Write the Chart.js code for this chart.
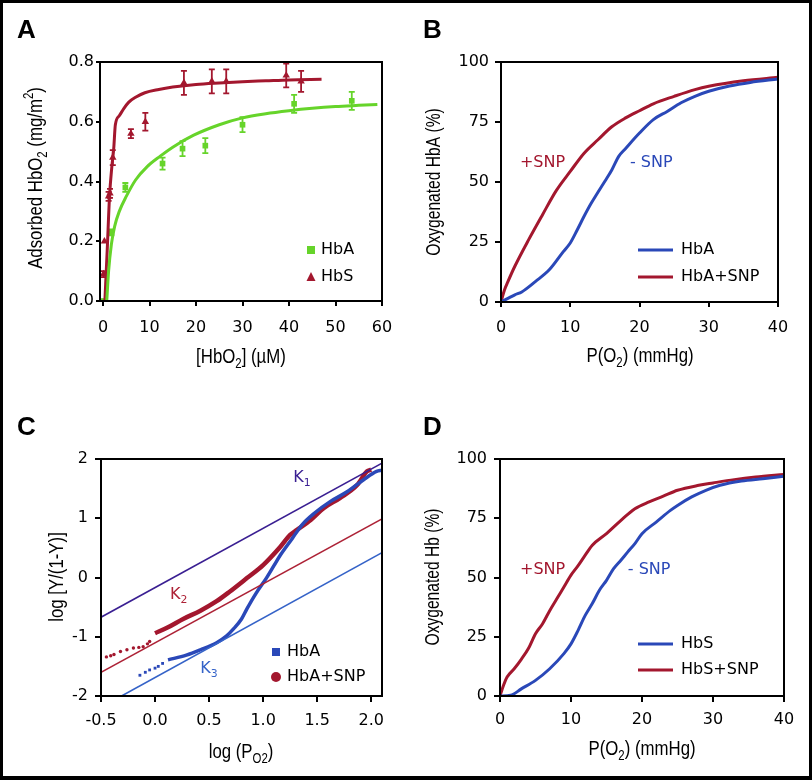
<!DOCTYPE html>
<html><head><meta charset="utf-8">
<script src="https://cdn.jsdelivr.net/npm/chart.js@4.4.1/dist/chart.umd.min.js"></script>
<style>
html,body{margin:0;padding:0;background:#fff;}
canvas{position:absolute;left:0;top:0;}
#frame{position:absolute;left:0;top:0;width:812px;height:780px;box-sizing:border-box;border:3px solid #000;border-bottom-width:4px;pointer-events:none;}
</style></head><body>
<canvas id="cA" width="812" height="780"></canvas>
<canvas id="cB" width="812" height="780"></canvas>
<canvas id="cC" width="812" height="780"></canvas>
<canvas id="cD" width="812" height="780"></canvas>
<div id="frame"></div>
<script>
// ---------------- DATA ----------------
// Panel A
const A_hba_x   = [0, 1.8, 4.8, 12.8, 17.1, 22.0, 30.0, 41.1, 53.5];
const A_hba_y   = [0.0, 0.23, 0.38, 0.46, 0.51, 0.52, 0.59, 0.66, 0.67];
const A_hba_err = [0, 0.01, 0.015, 0.02, 0.025, 0.025, 0.025, 0.03, 0.03];
const A_hbs_x   = [0.1, 0.3, 1.2, 1.5, 2.1, 6.0, 9.1, 17.4, 23.4, 26.5, 39.4, 42.6];
const A_hbs_y   = [0.09, 0.20, 0.35, 0.36, 0.48, 0.56, 0.60, 0.73, 0.735, 0.735, 0.755, 0.735];
const A_hbs_err = [0.01, 0, 0.015, 0.015, 0.025, 0.015, 0.03, 0.04, 0.04, 0.04, 0.04, 0.035];
const A_fitA_x  = [0.8, 1.2, 1.8, 2.5, 3.5, 5, 7, 9.5, 12.3, 15, 19.5, 25, 30, 35, 40, 45, 50, 55, 59];
const A_fitA_y  = [0, 0.1, 0.19, 0.25, 0.3, 0.35, 0.405, 0.45, 0.485, 0.515, 0.555, 0.59, 0.613, 0.627, 0.637, 0.645, 0.651, 0.655, 0.658];
const A_fitS_x  = [0.4, 0.9, 1.4, 1.9, 2.3, 2.65, 3.5, 4.5, 5.5, 7, 9, 12, 15, 20, 25, 30, 35, 40, 47];
const A_fitS_y  = [0, 0.17, 0.35, 0.45, 0.51, 0.59, 0.62, 0.645, 0.665, 0.682, 0.697, 0.708, 0.716, 0.725, 0.73, 0.734, 0.737, 0.74, 0.742];
const A_xticks  = [0, 10, 20, 30, 40, 50, 60];
const A_yticks  = [0, 0.2, 0.4, 0.6, 0.8];

// Panel B
const B_hba_x    = [0, 1, 2, 3, 5, 7, 9, 10, 11, 12, 13, 14, 15, 16, 17, 18, 20, 22, 24, 26, 28, 30, 33, 36, 40];
const B_hba_y    = [0, 1.5, 3, 4.2, 8.6, 13.5, 21, 24.6, 30, 35.7, 41, 45.7, 50.3, 55, 60.7, 64, 70.4, 76, 79.4, 83, 85.7, 87.8, 90, 91.5, 92.9];
const B_snp_x    = [0, 0.5, 1, 2, 4, 6, 8, 10, 12, 14, 16, 18, 20, 22, 25, 28, 30, 35, 40];
const B_snp_y    = [0, 5, 8.5, 14.9, 26, 36.4, 46.5, 54.4, 62, 67.6, 73, 76.7, 79.7, 82.6, 85.7, 88.5, 89.9, 92.2, 93.6];
const B_xticks   = [0, 10, 20, 30, 40];
const B_yticks   = [0, 25, 50, 75, 100];

// Panel C
const C_K1_x = [-0.5, 2.1];  const C_K1_y = [-0.67, 1.93];
const C_K2_x = [-0.5, 2.1];  const C_K2_y = [-1.6, 0.99];
const C_K3_x = [-0.31, 2.1]; const C_K3_y = [-2.0, 0.42];
const C_hbaSparse_x = [-0.14, -0.09, -0.05, 0.0, 0.03, 0.07];
const C_hbaSparse_y = [-1.65, -1.60, -1.56, -1.53, -1.50, -1.45];
const C_hba_x = [0.12, 0.29, 0.42, 0.57, 0.66, 0.73, 0.80, 0.85, 0.93, 1.03, 1.10, 1.16, 1.27, 1.36, 1.47, 1.62, 1.78, 1.93, 2.05, 2.1];
const C_hba_y = [-1.39, -1.31, -1.22, -1.10, -0.99, -0.86, -0.70, -0.53, -0.28, -0.01, 0.2, 0.38, 0.66, 0.89, 1.08, 1.28, 1.45, 1.65, 1.79, 1.81];
const C_snpSparse_x = [-0.45, -0.41, -0.38, -0.32, -0.26, -0.2, -0.15, -0.11, -0.07, -0.05];
const C_snpSparse_y = [-1.34, -1.32, -1.30, -1.25, -1.22, -1.19, -1.18, -1.17, -1.12, -1.08];
const C_snp_x = [0.0, 0.12, 0.26, 0.42, 0.57, 0.69, 0.85, 1.0, 1.16, 1.25, 1.31, 1.44, 1.56, 1.71, 1.87, 1.96, 2.0];
const C_snp_y = [-0.94, -0.84, -0.70, -0.56, -0.40, -0.24, -0.01, 0.21, 0.52, 0.72, 0.80, 0.97, 1.17, 1.34, 1.56, 1.79, 1.82];
const C_xticks = [-0.5, 0, 0.5, 1.0, 1.5, 2.0];
const C_yticks = [-2, -1, 0, 1, 2];

// Panel D
const D_hbs_x = [0, 1.5, 3, 5, 7, 9, 10, 11, 12, 13, 14, 15, 16, 17, 18, 19, 20, 22, 24, 25, 27, 29, 31, 34, 37, 40];
const D_hbs_y = [0, 0.3, 3, 6.6, 11.5, 17.9, 22, 27.7, 34, 39, 44.6, 48.8, 53.7, 57.2, 60.8, 64.3, 68.5, 73.4, 78.3, 80.4, 84, 86.8, 88.9, 90.7, 91.7, 92.7];
const D_snp_x = [0, 0.5, 1, 2, 3, 4, 5, 6, 7, 8, 9, 10, 11, 12, 13, 15, 17, 19, 21, 23, 25, 28, 30, 33, 36, 40];
const D_snp_y = [0, 4.5, 8, 11.5, 15.5, 20, 26.3, 30.5, 36, 41, 46, 51, 55, 59.4, 63.6, 68.5, 74, 79, 81.9, 84.3, 86.8, 88.9, 89.9, 91.3, 92.4, 93.5];
const D_xticks = [0, 10, 20, 30, 40];
const D_yticks = [0, 25, 50, 75, 100];

// Text
const A_xtitle = [['[HbO',''],['2','sub'],['] (\u00b5M)','']];
const A_ytitle = [['Adsorbed HbO',''],['2','sub'],[' (mg/m',''],['2','sup'],[')','']];
const B_xtitle = [['P(O',''],['2','sub'],[') (mmHg)','']];
const B_ytitle = [['Oxygenated HbA (%)','']];
const C_xtitle = [['log (P',''],['O2','sub'],[')','']];
const C_ytitle = [['log [Y/(1-Y)]','']];
const D_xtitle = [['P(O',''],['2','sub'],[') (mmHg)','']];
const D_ytitle = [['Oxygenated Hb (%)','']];

// ---------------- STYLE ----------------
const RED = '#a3172e', GREEN = '#66d42a', BLUE = '#2a48b8', PURPLE = '#3a1f92', RED2 = '#ad2236', BLUE2 = '#3563c8';
const TICKFONT = 'DejaVu Sans';
const TITLEFONT = "'Liberation Sans', Arial, sans-serif";
const W = 812, H = 780;

function pts(xs, ys) { return xs.map((x, i) => ({x, y: ys[i]})); }

function drawRich(ctx, segs, x, y, size, family, color, rot, align, sx) {
  sx = sx || 1;
  ctx.save();
  ctx.translate(x, y); if (rot) ctx.rotate(rot);
  ctx.scale(sx, 1);
  ctx.fillStyle = color; ctx.textBaseline = 'middle'; ctx.textAlign = 'left';
  let total = 0;
  const parts = segs.map(([t, m]) => {
    const s = m ? size * 0.68 : size;
    ctx.font = s + 'px ' + family;
    const w = ctx.measureText(t).width; total += w;
    return {t, m, s, w};
  });
  let cx = align === 'left' ? 0 : -total / 2;
  for (const p of parts) {
    ctx.font = p.s + 'px ' + family;
    const dy = p.m === 'sub' ? size * 0.32 : p.m === 'sup' ? -size * 0.33 : 0;
    ctx.fillText(p.t, cx, dy);
    cx += p.w;
  }
  ctx.restore();
}

function marker(ctx, type, x, y, s, color) {
  ctx.save(); ctx.fillStyle = color;
  if (type === 'rect') { ctx.fillRect(x - s / 2, y - s / 2, s, s); }
  else if (type === 'tri') { ctx.beginPath(); ctx.moveTo(x, y - s * 0.55); ctx.lineTo(x + s / 2, y + s * 0.45); ctx.lineTo(x - s / 2, y + s * 0.45); ctx.closePath(); ctx.fill(); }
  else if (type === 'circle') { ctx.beginPath(); ctx.arc(x, y, s / 2, 0, Math.PI * 2); ctx.fill(); }
  else if (type === 'line') { ctx.strokeStyle = color; ctx.lineWidth = 3; ctx.beginPath(); ctx.moveTo(x, y); ctx.lineTo(x + s, y); ctx.stroke(); }
  ctx.restore();
}

function decoPlugin(d) {
  return {
    id: 'deco',
    beforeDatasetsDraw(chart) {
      const ctx = chart.ctx, xs = chart.scales.x, ys = chart.scales.y;
      (d.errors || []).forEach(e => {
        ctx.save(); ctx.strokeStyle = e.color; ctx.lineWidth = 1.8;
        e.x.forEach((xv, i) => {
          if (!e.err[i]) return;
          const px = xs.getPixelForValue(xv);
          const y1 = ys.getPixelForValue(e.y[i] + e.err[i]);
          const y2 = ys.getPixelForValue(e.y[i] - e.err[i]);
          ctx.beginPath();
          ctx.moveTo(px, y1); ctx.lineTo(px, y2);
          ctx.moveTo(px - 3, y1); ctx.lineTo(px + 3, y1);
          ctx.moveTo(px - 3, y2); ctx.lineTo(px + 3, y2);
          ctx.stroke();
        });
        ctx.restore();
      });
    },
    afterDraw(chart) {
      const ctx = chart.ctx, a = chart.chartArea, xs = chart.scales.x, ys = chart.scales.y;
      ctx.save(); ctx.strokeStyle = '#000'; ctx.lineWidth = 2;
      ctx.strokeRect(a.left, a.top, a.right - a.left, a.bottom - a.top);
      ctx.restore();
      // panel letter
      ctx.save(); ctx.fillStyle = '#000'; ctx.font = 'bold 26px "Liberation Sans", Arial, sans-serif';
      ctx.textBaseline = 'alphabetic'; ctx.textAlign = 'left';
      ctx.fillText(d.letter.t, d.letter.x, d.letter.y); ctx.restore();
      // axis titles (condensed face)
      d.titles.forEach(t => drawRich(ctx, t.segs, t.x, t.y, t.size, TITLEFONT, '#000', t.rot, 'center', 0.8));
      // legend
      (d.legend || []).forEach(l => {
        marker(ctx, l.type, l.mx, l.y, l.s, l.color);
        drawRich(ctx, [[l.text, '']], l.tx, l.y, 16, TICKFONT, '#000', 0, 'left');
      });
      // notes in data coords
      (d.notes || []).forEach(n => {
        drawRich(ctx, n.segs, xs.getPixelForValue(n.x), ys.getPixelForValue(n.y), 16, TICKFONT, n.color, 0, 'center');
      });
    }
  };
}

function scale(pos, min, max, ticksArr, fmt, tl, pad, fitFn) {
  return {
    type: 'linear', position: pos, min, max, bounds: 'data',
    afterBuildTicks: s => { s.ticks = ticksArr.map(v => ({value: v})); },
    afterFit: fitFn,
    ticks: {callback: fmt, font: {family: TICKFONT, size: 16}, color: '#000', padding: pad, autoSkip: false, maxRotation: 0, minRotation: 0},
    grid: {drawOnChartArea: false, drawTicks: true, tickLength: tl, color: '#000', lineWidth: 2},
    border: {display: true, color: '#000', width: 2}
  };
}

function makePanel(id, area, xcfg, ycfg, datasets, deco) {
  return new Chart(document.getElementById(id), {
    type: 'scatter',
    data: {datasets},
    options: {
      responsive: false, animation: false, events: [],
      layout: {padding: {left: 0, top: area.top, right: W - area.right, bottom: 0}},
      plugins: {legend: {display: false}, tooltip: {enabled: false}},
      scales: {
        x: scale('bottom', xcfg.min, xcfg.max, xcfg.ticks, xcfg.fmt, xcfg.tl, xcfg.pad, s => { s.height = H - area.bottom; }),
        y: scale('left', ycfg.min, ycfg.max, ycfg.ticks, ycfg.fmt, ycfg.tl, ycfg.pad, s => { s.width = area.left; })
      }
    },
    plugins: [decoPlugin(deco)]
  });
}

const lineDs = (xs, ys, color, w, extra) => Object.assign({data: pts(xs, ys), showLine: true, borderColor: color, backgroundColor: color, borderWidth: w, pointRadius: 0, cubicInterpolationMode: 'monotone'}, extra || {});
const ptDs = (xs, ys, color, style, r) => ({data: pts(xs, ys), showLine: false, pointStyle: style, pointRadius: r, backgroundColor: color, borderColor: color, borderWidth: 0});
const int = v => String(v);

// ---------------- PANEL A ----------------
makePanel('cA', {left: 100, right: 382, top: 62, bottom: 301},
  {min: -0.65, max: 60, ticks: A_xticks, fmt: int, tl: 5, pad: 12},
  {min: 0, max: 0.8, ticks: A_yticks, fmt: v => v.toFixed(1), tl: 4, pad: 2},
  [
    lineDs(A_fitA_x, A_fitA_y, GREEN, 3),
    lineDs(A_fitS_x, A_fitS_y, RED, 3),
    ptDs(A_hba_x, A_hba_y, GREEN, 'rect', 4),
    ptDs(A_hbs_x, A_hbs_y, RED, 'triangle', 4.3)
  ],
  {
    letter: {t: 'A', x: 17, y: 38},
    titles: [
      {segs: A_xtitle, x: 241, y: 357, size: 21, rot: 0},
      {segs: A_ytitle, x: 36, y: 178, size: 21, rot: -Math.PI / 2}
    ],
    errors: [
      {x: A_hba_x, y: A_hba_y, err: A_hba_err, color: GREEN},
      {x: A_hbs_x, y: A_hbs_y, err: A_hbs_err, color: RED}
    ],
    legend: [
      {type: 'rect', mx: 311, y: 250, s: 8, color: GREEN, tx: 321, text: 'HbA'},
      {type: 'tri', mx: 311, y: 277, s: 9, color: RED, tx: 321, text: 'HbS'}
    ]
  });

// ---------------- PANEL B ----------------
makePanel('cB', {left: 501, right: 778, top: 62, bottom: 302},
  {min: 0, max: 40, ticks: B_xticks, fmt: int, tl: 5, pad: 11},
  {min: 0, max: 100, ticks: B_yticks, fmt: int, tl: 6, pad: 6},
  [
    lineDs(B_hba_x, B_hba_y, BLUE, 3),
    lineDs(B_snp_x, B_snp_y, RED, 3)
  ],
  {
    letter: {t: 'B', x: 423, y: 38},
    titles: [
      {segs: B_xtitle, x: 640, y: 356, size: 21, rot: 0},
      {segs: B_ytitle, x: 435, y: 182, size: 19.5, rot: -Math.PI / 2}
    ],
    legend: [
      {type: 'line', mx: 638, y: 250, s: 35, color: BLUE, tx: 681, text: 'HbA'},
      {type: 'line', mx: 638, y: 277, s: 35, color: RED, tx: 681, text: 'HbA+SNP'}
    ],
    notes: [
      {segs: [['+SNP', '']], x: 6.0, y: 57.9, color: RED},
      {segs: [['- SNP', '']], x: 21.7, y: 57.9, color: BLUE}
    ]
  });

// ---------------- PANEL C ----------------
makePanel('cC', {left: 101, right: 382, top: 459, bottom: 696},
  {min: -0.5, max: 2.1, ticks: C_xticks, fmt: v => v.toFixed(1), tl: 6, pad: 9},
  {min: -2, max: 2, ticks: C_yticks, fmt: int, tl: 6, pad: 7},
  [
    lineDs(C_K1_x, C_K1_y, PURPLE, 1.6, {cubicInterpolationMode: 'default'}),
    lineDs(C_K2_x, C_K2_y, RED2, 1.6, {cubicInterpolationMode: 'default'}),
    lineDs(C_K3_x, C_K3_y, BLUE2, 1.6, {cubicInterpolationMode: 'default'}),
    lineDs(C_hba_x, C_hba_y, BLUE, 3.5),
    ptDs(C_hbaSparse_x, C_hbaSparse_y, BLUE, 'rect', 2),
    lineDs(C_snp_x, C_snp_y, RED, 4.5),
    ptDs(C_snpSparse_x, C_snpSparse_y, RED, 'circle', 1.7)
  ],
  {
    letter: {t: 'C', x: 17, y: 435},
    titles: [
      {segs: C_xtitle, x: 241, y: 752, size: 21, rot: 0},
      {segs: C_ytitle, x: 57, y: 577, size: 21, rot: -Math.PI / 2}
    ],
    legend: [
      {type: 'rect', mx: 276, y: 652, s: 8, color: BLUE, tx: 287, text: 'HbA'},
      {type: 'circle', mx: 276, y: 677, s: 10, color: RED, tx: 287, text: 'HbA+SNP'}
    ],
    notes: [
      {segs: [['K', ''], ['1', 'sub']], x: 1.36, y: 1.68, color: PURPLE},
      {segs: [['K', ''], ['2', 'sub']], x: 0.22, y: -0.30, color: RED2},
      {segs: [['K', ''], ['3', 'sub']], x: 0.50, y: -1.54, color: BLUE2}
    ]
  });

// ---------------- PANEL D ----------------
makePanel('cD', {left: 500, right: 784, top: 459, bottom: 696},
  {min: 0, max: 40, ticks: D_xticks, fmt: int, tl: 6, pad: 8},
  {min: 0, max: 100, ticks: D_yticks, fmt: int, tl: 6, pad: 7},
  [
    lineDs(D_hbs_x, D_hbs_y, BLUE, 3),
    lineDs(D_snp_x, D_snp_y, RED, 3)
  ],
  {
    letter: {t: 'D', x: 423, y: 435},
    titles: [
      {segs: D_xtitle, x: 642, y: 749, size: 21, rot: 0},
      {segs: D_ytitle, x: 434, y: 577, size: 19.5, rot: -Math.PI / 2}
    ],
    legend: [
      {type: 'line', mx: 638, y: 644, s: 35, color: BLUE, tx: 681, text: 'HbS'},
      {type: 'line', mx: 638, y: 670, s: 35, color: RED, tx: 681, text: 'HbS+SNP'}
    ],
    notes: [
      {segs: [['+SNP', '']], x: 6.0, y: 53.4, color: RED},
      {segs: [['- SNP', '']], x: 21.0, y: 53.4, color: BLUE}
    ]
  });
</script>
</body></html>
